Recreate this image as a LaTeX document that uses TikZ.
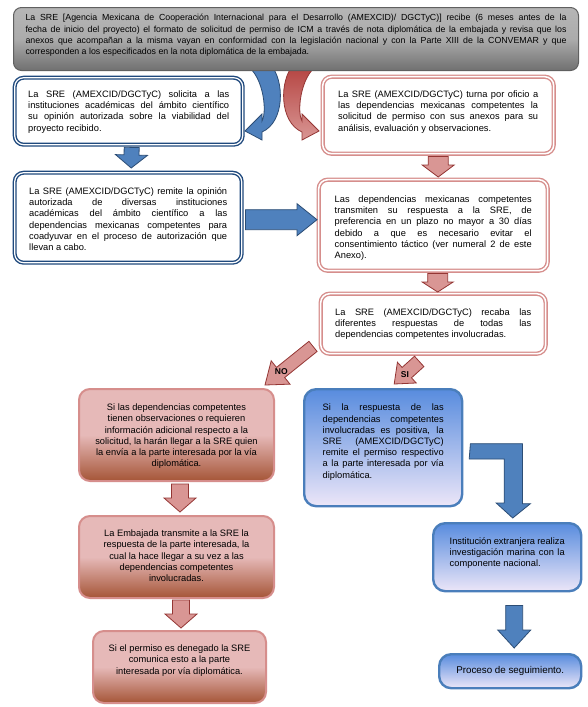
\documentclass[tikz,border=0pt]{standalone}
\usepackage{fontspec}
\setmainfont{Liberation Sans}
\usepackage{tikz}
\usetikzlibrary{calc}
\usepackage{xcolor}
\definecolor{line_blue}{RGB}{31,73,125}
\definecolor{line_red}{RGB}{214,142,140}
\definecolor{arrow_blue}{RGB}{79,129,189}
\definecolor{edge_blue}{RGB}{44,77,117}
\definecolor{arrow_red}{RGB}{217,150,148}
\definecolor{edge_red}{RGB}{148,54,52}
\definecolor{curve_red}{RGB}{180,66,63}
\definecolor{fill_pink}{RGB}{230,185,184}
\definecolor{fill_brown}{RGB}{165,85,55}
\definecolor{fill_sky}{RGB}{88,140,222}
\definecolor{fill_lilac}{RGB}{236,230,248}
\definecolor{frame_blue}{RGB}{74,126,187}
\definecolor{top_gray}{RGB}{182,182,182}
\definecolor{low_gray}{RGB}{112,112,112}
\definecolor{edge_gray}{RGB}{96,96,96}

\hyphenpenalty=10000
\exhyphenpenalty=10000

\newcommand{\boxtext}[3]{\parbox[c][#2][t]{#1}{\sloppy #3}}
\newcommand{\boxcenter}[3]{\parbox[c][#2][t]{#1}{\centering #3}}
\newcommand{\blockarrow}[6]{%
  \path (#2) coordinate (ba-a) (#3) coordinate (ba-b);
  \path ($(ba-b)!#6!(ba-a)$) coordinate (ba-h);
  \draw[#1] ($(ba-a)!#4!90:(ba-b)$) -- ($(ba-h)!#4!90:(ba-b)$)
    -- ($(ba-h)!#5!90:(ba-b)$) -- (ba-b)
    -- ($(ba-h)!#5!-90:(ba-b)$) -- ($(ba-h)!#4!-90:(ba-b)$)
    -- ($(ba-a)!#4!-90:(ba-b)$) -- cycle;}

\tikzset{
  box/.style={anchor=north west, inner sep=0pt, font=\fontsize{9.3}{11.2}\selectfont},
  lineblue/.style={box, fill=white, draw=line_blue, double=white, double distance=1.2pt, line width=1.4pt, rounded corners=9pt},
  linered/.style={box, fill=white, draw=line_red, double=white, double distance=1.5pt, line width=1.4pt, rounded corners=9pt},
  fillred/.style={box, draw=line_red, line width=2pt, rounded corners=11pt, top color=fill_pink, bottom color=fill_brown, middle color=fill_pink},
  fillblue/.style={box, draw=frame_blue, line width=2.4pt, rounded corners=12pt, top color=fill_sky, bottom color=fill_lilac},
  graybox/.style={box, draw=edge_gray, line width=1pt, rounded corners=8pt, top color=top_gray, bottom color=low_gray, middle color=top_gray!85!low_gray},
  blockblue/.style={fill=arrow_blue, draw=edge_blue, line width=0.8pt},
  blockred/.style={fill=arrow_red, draw=edge_red, line width=0.8pt},
  curvered/.style={top color=curve_red, bottom color=arrow_red, draw=edge_red, line width=0.8pt},
  answer/.style={inner sep=0pt, font=\bfseries\fontsize{8.5}{10}\selectfont}
}

\begin{document}
\begin{tikzpicture}[x=1pt, y=-1pt]
  \path[use as bounding box, fill=white] (0,0) rectangle (588,707);

  % curved arrows under the first box
  \draw[blockblue] (243,64) .. controls (262,70) and (268,110) .. (262,121)
    -- (262,114) -- (245,131) -- (262,140) -- (262,132)
    .. controls (285,122) and (285,80) .. (270,64) -- cycle;
  \draw[curvered] (321,64) .. controls (302,70) and (296,110) .. (302,121)
    -- (302,114) -- (319,131) -- (302,140) -- (302,132)
    .. controls (279,122) and (279,80) .. (294,64) -- cycle;

  % boxes
  \node[graybox, font=\fontsize{8.8}{11.3}\selectfont, minimum width=565, minimum height=63] (sre) at (13,7)
    {\boxtext{541pt}{49pt}{La SRE [Agencia Mexicana de Cooperación Internacional para el Desarrollo (AMEXCID)/ DGCTyC)] recibe (6 meses antes de la\linebreak
    fecha de inicio del proyecto) el formato de solicitud de permiso de ICM a través de nota diplomática de la embajada y revisa que los\linebreak
    anexos que acompañan a la misma vayan en conformidad con la legislación nacional y con la Parte XIII de la CONVEMAR y que\linebreak
    corresponden a los especificados en la nota diplomática de la embajada.}};
  \node[lineblue, minimum width=228, minimum height=67] (l1) at (14,77)
    {\boxtext{201pt}{41pt}{La SRE (AMEXCID/DGCTyC) solicita a las\linebreak
    instituciones académicas del ámbito científico\linebreak
    su opinión autorizada sobre la viabilidad del\linebreak
    proyecto recibido.}};
  \node[linered, minimum width=231, minimum height=77] (r1) at (322,76)
    {\boxtext{200pt}{49pt}{La SRE (AMEXCID/DGCTyC) turna por oficio a\linebreak
    las dependencias mexicanas competentes la\linebreak
    solicitud de permiso con sus anexos para su\linebreak
    análisis, evaluación y observaciones.}};
  \node[lineblue, minimum width=227, minimum height=90] (l2) at (14,172)
    {\boxtext{198pt}{60pt}{La SRE (AMEXCID/DGCTyC) remite la opinión\linebreak
    autorizada de diversas instituciones\linebreak
    académicas del ámbito científico a las\linebreak
    dependencias mexicanas competentes para\linebreak
    coadyuvar en el proceso de autorización que\linebreak
    llevan a cabo.}};
  \node[linered, minimum width=229, minimum height=91] (r2) at (318,179)
    {\boxtext{197pt}{59pt}{Las dependencias mexicanas competentes\linebreak
    transmiten su respuesta a la SRE, de\linebreak
    preferencia en un plazo no mayor a 30 días\linebreak
    debido a que es necesario evitar el\linebreak
    consentimiento táctico (ver numeral 2 de este\linebreak
    Anexo).}};
  \node[linered, minimum width=225, minimum height=60] (r3) at (320,293)
    {\boxtext{196pt}{30pt}{La SRE (AMEXCID/DGCTyC) recaba las\linebreak
    diferentes respuestas de todas las\linebreak
    dependencias competentes involucradas.}};
  \node[fillred, minimum width=195, minimum height=92] (l3) at (78,388)
    {\boxcenter{185pt}{62pt}{Si las dependencias competentes\\ tienen observaciones o requieren\\ información adicional respecto a la\\ solicitud, la harán llegar a la SRE quien\\ la envía a la parte interesada por la vía\\ diplomática.}};
  \node[fillred, minimum width=195, minimum height=82] (l4) at (78,515)
    {\boxcenter{185pt}{54pt}{La Embajada transmite a la SRE la\\ respuesta de la parte interesada, la\\ cual la hace llegar a su vez a las\\ dependencias competentes\\ involucradas.}};
  \node[fillred, minimum width=173, minimum height=72] (l5) at (92,630)
    {\boxcenter{165pt}{44pt}{Si el permiso es denegado la SRE\\ comunica esto a la parte\\ interesada por vía diplomática.}};
  \node[fillblue, minimum width=158, minimum height=117] (b1) at (303,388)
    {\boxtext{121pt}{87pt}{Si la respuesta de las\linebreak
    dependencias competentes\linebreak
    involucradas es positiva, la\linebreak
    SRE (AMEXCID/DGCTyC)\linebreak
    remite el permiso respectivo\linebreak
    a la parte interesada por vía\linebreak
    diplomática.}};
  \node[fillblue, minimum width=148, minimum height=68] (b2) at (432,522)
    {\boxtext{115pt}{40pt}{Institución extranjera realiza\linebreak
    investigación marina con la\linebreak
    componente nacional.}};
  \node[fillblue, font=\fontsize{9.8}{11}\selectfont, minimum width=142, minimum height=34] (b3) at (438,653)
    {Proceso de seguimiento.};

  % block arrows
  \blockarrow{blockblue}{$(l1.south)+(3,2)$}{$(l2.north)+(3,-4)$}{7.5pt}{16pt}{13pt}
  \blockarrow{blockred}{$(r1.south)+(0,2)$}{$(r2.north)+(5,-2)$}{10pt}{16pt}{12pt}
  \blockarrow{blockblue}{$(l2.east)+(3,2)$}{$(r2.west)+(-1,-5.5)$}{10pt}{16pt}{20pt}
  \blockarrow{blockred}{$(r2.south)+(4.5,2)$}{$(r3.north)+(4.5,-1)$}{10pt}{15.5pt}{10pt}
  \coordinate (notail) at ($(r3.south west)+(-7,-8)$);
  \coordinate (notip) at ($(l3.north east)+(-10,-3)$);
  \coordinate (sitail) at ($(r3.south)+(-14,7)$);
  \coordinate (sitip) at ($(b1.north)+(11,-4)$);
  \blockarrow{blockred}{notail}{notip}{6.5pt}{15pt}{20pt}
  \blockarrow{blockred}{sitail}{sitip}{7pt}{14pt}{17pt}
  \node[answer] (no) at ($(notail)!0.66!(notip)$) {NO};
  \node[answer] (si) at ($(sitail)!0.57!(sitip)$) {SI};
  \blockarrow{blockred}{$(l3.south)+(3.5,2)$}{$(l4.north)+(3.5,-3)$}{8.5pt}{16pt}{14pt}
  \blockarrow{blockred}{$(l4.south)+(4.5,1)$}{$(l5.north)+(1.5,-2)$}{8.5pt}{16pt}{14pt}
  \draw[blockblue] ($(b1.east)+(7,-4)$) -- ++(52,0) -- ++(0,60) -- ++(8,0)
    -- ($(b2.north)+(5.5,-4)$) -- ++(-16.5,-15) -- ++(8,0) -- ++(0,-44) -- ++(-35,0) -- cycle;
  \blockarrow{blockblue}{$(b2.south)+(7,13)$}{$(b3.north)+(4,-5)$}{8.5pt}{16.5pt}{18pt}
\end{tikzpicture}
\end{document}
